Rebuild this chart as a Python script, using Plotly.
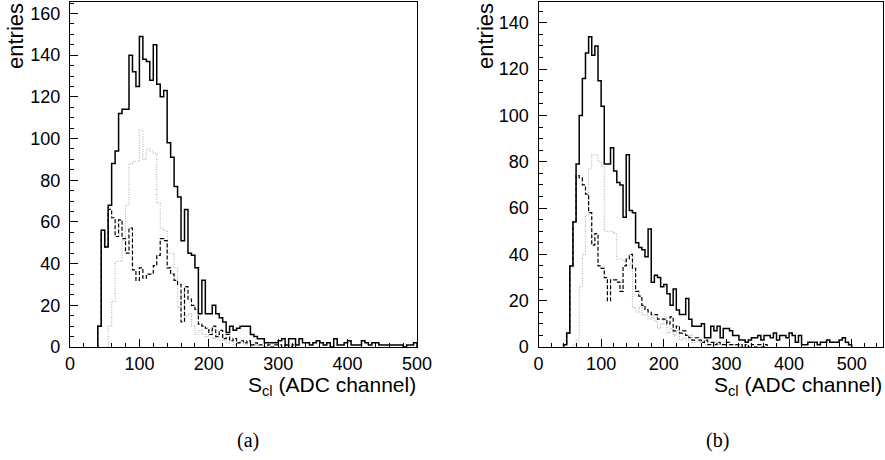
import plotly.graph_objects as go

BIN_WIDTH = 5

# ---------- panel (a) ----------
A_TOTAL_START = 40
A_TOTAL = [10, 56, 48, 68, 88, 94, 112, 114, 114, 140, 132, 125, 149, 138, 137, 128, 145, 126, 120, 123,
           98, 91, 77, 72, 51, 66, 45, 44, 38, 16, 32, 16, 16, 20, 16, 14, 12, 7, 10, 8,
           9, 10, 10, 10, 6, 5, 4, 4, 2, 2, 2, 2, 3, 4, 1, 4, 4, 1, 4, 2,
           2, 1, 2, 3, 2, 1, 2, 0, 4, 1, 1, 2, 3, 1, 1, 1, 3, 2, 1, 2,
           2, 1, 1, 1, 1, 1, 1, 1, 0, 1, 1, 2]
A_DASH_START = 40
A_DASH = [10, 56, 48, 66, 62, 53, 61, 52, 45, 57, 37, 32, 38, 33, 35, 35, 39, 44, 52, 51,
          38, 35, 32, 30, 12, 29, 23, 20, 18, 11, 10, 9, 6, 10, 5, 8, 4, 6, 3, 4,
          2, 3, 2, 3, 1, 2, 1, 1, 0, 1, 0, 1, 1, 0, 1, 0, 1]
A_DOT_START = 55
A_DOT = [10, 22, 41, 41, 51, 68, 88, 89, 89, 104, 90, 95, 94, 93, 69, 57, 56, 45, 45, 38,
         19, 26, 15, 16, 10, 6, 8, 6, 5, 8, 4, 6, 3, 4, 2, 3, 1, 2, 3, 1,
         2, 1, 1]

# ---------- panel (b) ----------
B_TOTAL_START = 40
B_TOTAL = [1, 6, 35, 54, 79, 100, 116, 127, 134, 126, 130, 115, 104, 79, 79, 86, 76, 71, 70, 56,
           83, 59, 58, 45, 43, 42, 39, 51, 28, 31, 30, 26, 27, 23, 18, 25, 16, 14, 14, 21,
           12, 9, 9, 9, 10, 4, 4, 9, 7, 9, 4, 8, 8, 7, 5, 5, 3, 3, 2, 3,
           4, 4, 5, 3, 5, 5, 4, 6, 3, 5, 5, 4, 6, 5, 2, 5, 1, 1, 2, 2,
           2, 1, 2, 2, 3, 2, 2, 2, 3, 4, 2, 1]
B_DASH_START = 40
B_DASH = [1, 6, 35, 54, 74, 73, 70, 66, 58, 44, 49, 35, 34, 30, 20, 29, 29, 28, 24, 35,
          38, 40, 34, 24, 22, 18, 16, 15, 14, 14, 12, 12, 12, 10, 13, 7, 9, 6, 7, 5,
          4, 3, 4, 3, 2, 3, 1, 2, 1, 2, 1, 1, 2, 1, 1, 1, 1, 0, 1, 0,
          1, 0, 1, 0, 1]
B_DOT_START = 55
B_DOT = [1, 3, 26, 40, 57, 77, 83, 83, 80, 78, 50, 50, 50, 49, 38, 38, 37, 35, 36, 17,
         15, 17, 14, 14, 12, 13, 11, 8, 10, 13, 6, 8, 5, 7, 3, 4, 3, 5, 2, 3,
         2, 3, 1, 2, 1, 2, 1, 1, 2, 1, 1, 1, 0, 1]

X_TICKS = [0, 100, 200, 300, 400, 500]
X_TITLE = "S<sub>cl</sub> (ADC channel)"
Y_TITLE = "entries"
PANEL_LABELS = ["(a)", "(b)"]

W, H = 885, 460


def step_xy(start, counts, width):
    xs = [start]
    ys = [0]
    for i, c in enumerate(counts):
        xs.append(start + i * width)
        ys.append(c)
    xs.append(start + len(counts) * width)
    ys.append(0)
    return xs, ys


fig = go.Figure()

panels = [
    dict(xa="x", ya="y", series=[(A_TOTAL_START, A_TOTAL), (A_DASH_START, A_DASH), (A_DOT_START, A_DOT)]),
    dict(xa="x2", ya="y2", series=[(B_TOTAL_START, B_TOTAL), (B_DASH_START, B_DASH), (B_DOT_START, B_DOT)]),
]
styles = [
    dict(color="black", width=1.5, dash="solid"),
    dict(color="black", width=1.2, dash="4px,2px"),
    dict(color="#b0b0b0", width=1.1, dash="1px,1.5px"),
]

for p in panels:
    for (start, counts), st in reversed(list(zip(p["series"], styles))):
        xs, ys = step_xy(start, counts, BIN_WIDTH)
        fig.add_trace(go.Scatter(x=xs, y=ys, mode="lines", line_shape="hv",
                                 line=dict(color=st["color"], width=st["width"], dash=st["dash"]),
                                 xaxis=p["xa"], yaxis=p["ya"], showlegend=False, hoverinfo="skip"))

font_tick = dict(family="Liberation Sans", size=18, color="black")
ydom = [1 - 347 / H, 1 - 2 / H]

common_x = dict(showline=True, linecolor="black", linewidth=1.2, mirror=True, ticks="inside", ticklen=8,
                tickcolor="black", tickvals=X_TICKS, tickfont=font_tick, showgrid=False, zeroline=False,
                minor=dict(ticks="inside", ticklen=4, dtick=20, tickcolor="black", showgrid=False),
                ticklabelstandoff=0, automargin=False)
common_y = dict(showline=True, linecolor="black", linewidth=1.2, mirror=True, ticks="inside", ticklen=8,
                tickcolor="black", dtick=20, tickfont=font_tick, showgrid=False, zeroline=False,
                minor=dict(ticks="inside", ticklen=4, dtick=5, tickcolor="black", showgrid=False),
                ticklabelstandoff=5, automargin=False)

fig.update_layout(
    width=W, height=H,
    margin=dict(l=0, r=0, t=0, b=0),
    paper_bgcolor="white", plot_bgcolor="white",
    xaxis=dict(domain=[70 / W, 417 / W], range=[0, 500], anchor="y", **common_x),
    yaxis=dict(domain=ydom, range=[0, 165.5], anchor="x", **common_y),
    xaxis2=dict(domain=[538.5 / W, 883 / W], range=[0, 550], anchor="y2", **common_x),
    yaxis2=dict(domain=ydom, range=[0, 149], anchor="x2", **common_y),
)

annotations = []
for xr, ylab_x, lab_x, lab in [(418, 16, 248, PANEL_LABELS[0]), (884, 486, 717, PANEL_LABELS[1])]:
    annotations.append(dict(text=X_TITLE, xref="paper", yref="paper", x=xr / W, y=1 - 371 / H,
                            xanchor="right", yanchor="top", showarrow=False,
                            font=dict(family="Liberation Sans", size=21, color="black")))
    annotations.append(dict(text=Y_TITLE, xref="paper", yref="paper", x=ylab_x / W, y=1 - 1 / H,
                            xanchor="center", yanchor="top", textangle=-90, showarrow=False,
                            font=dict(family="Liberation Sans", size=22, color="black")))
    annotations.append(dict(text=lab, xref="paper", yref="paper", x=lab_x / W, y=1 - 440 / H,
                            xanchor="center", yanchor="middle", showarrow=False,
                            font=dict(family="Liberation Serif", size=20, color="black")))
fig.update_layout(annotations=annotations)

fig.write_html("out.html", config={"displayModeBar": False},
               post_script="document.body.style.margin='0';document.body.style.overflow='hidden';")
